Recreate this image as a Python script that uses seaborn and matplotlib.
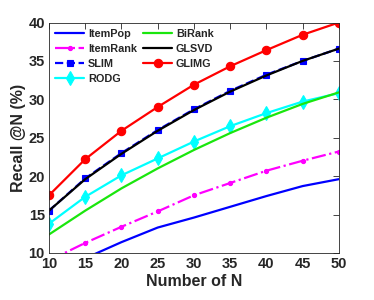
import matplotlib
matplotlib.use("Agg")
import matplotlib.pyplot as plt
import seaborn as sns
import pandas as pd

N = [10, 15, 20, 25, 30, 35, 40, 45, 50]
itempop  = [7.2, 9.3, 11.4, 13.3, 14.6, 16.0, 17.4, 18.7, 19.6]
itemrank = [9.0, 11.3, 13.4, 15.4, 17.5, 19.1, 20.7, 22.0, 23.2]
slim     = [15.5, 19.7, 23.0, 26.0, 28.7, 31.1, 33.2, 35.0, 36.6]
rodg     = [13.8, 17.3, 20.1, 22.3, 24.5, 26.5, 28.2, 29.7, 30.8]
birank   = [12.4, 15.5, 18.4, 21.0, 23.4, 25.6, 27.6, 29.4, 30.9]
glsvd    = [15.5, 19.6, 22.9, 25.9, 28.6, 31.0, 33.1, 35.0, 36.6]
glimg    = [17.5, 22.2, 25.9, 29.0, 31.9, 34.3, 36.4, 38.4, 40.0]

sns.set_style("white")
plt.rcParams['font.family'] = ['Liberation Sans', 'DejaVu Sans']
plt.rcParams['font.weight'] = 'bold'

fig = plt.figure(figsize=(3.74, 3.0), dpi=100)
ax = fig.add_axes([0.131, 0.157, 0.775, 0.768])

series = [
    ("ItemPop", itempop, dict(color=(0, 0, 1), linestyle='-', marker=None)),
    ("ItemRank", itemrank, dict(color=(1, 0, 1), linestyle='-.', marker='o', markersize=3)),
    ("SLIM", slim, dict(color=(0, 0, 1), linestyle='--', marker='s', markersize=5)),
    ("RODG", rodg, dict(color=(0, 1, 1), linestyle='-', marker='d', markersize=7)),
    ("BiRank", birank, dict(color=(0.1, 0.9, 0.05), linestyle='-', marker=None)),
    ("GLSVD", glsvd, dict(color=(0, 0, 0), linestyle='-', marker=None)),
    ("GLIMG", glimg, dict(color=(1, 0, 0), linestyle='-', marker='o', markersize=6)),
]

for name, vals, st in series:
    df = pd.DataFrame({"N": N, "v": vals})
    sns.lineplot(data=df, x="N", y="v", ax=ax, label=name, linewidth=1.6,
                 markeredgewidth=0.8, markeredgecolor=st['color'], **st)

ax.set_xlim(10, 50)
ax.set_ylim(10, 40)
ax.set_xticks(range(10, 51, 5))
ax.set_yticks(range(10, 41, 5))
ax.tick_params(direction='in', top=True, right=True, length=4, width=0.6,
               labelsize=10.5, pad=3, colors='#262626')
for lab in ax.get_xticklabels() + ax.get_yticklabels():
    lab.set_fontweight('bold')
for s in ax.spines.values():
    s.set_linewidth(0.6)
    s.set_color('#262626')
ax.set_xlabel("Number of N", fontsize=11.5, fontweight='bold', color='#262626', labelpad=2)
ax.set_ylabel("Recall @N (%)", fontsize=11.5, fontweight='bold', color='#262626', labelpad=2)

leg = ax.legend(ncol=2, loc='upper left', frameon=False,
                handlelength=2.6, labelspacing=0.45, columnspacing=0.6,
                handletextpad=0.4, borderaxespad=0.2, prop={'weight': 'bold', 'size': 7.8})

fig.savefig("out.png", dpi=100)
